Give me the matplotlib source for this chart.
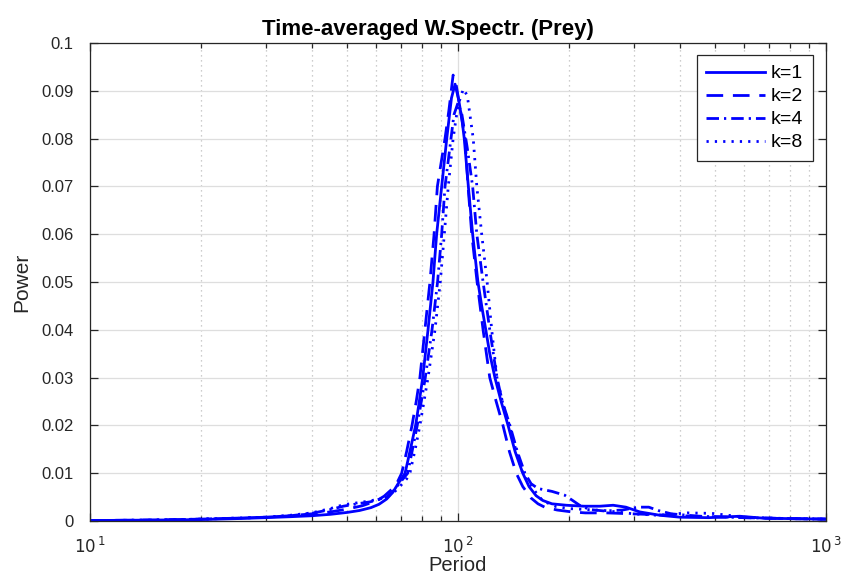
import matplotlib
matplotlib.use("Agg")
import matplotlib.pyplot as plt
from matplotlib.ticker import FixedLocator, NullFormatter, FixedFormatter

plt.rcParams['font.family'] = ['Liberation Sans', 'DejaVu Sans']

# ---- data ----
p1 = [10, 15, 20, 25, 30, 35, 40, 45, 50, 54,
      58, 61, 64, 66.5, 69, 71.8, 74, 76.7, 78.5, 80.2,
      82.9, 85.5, 87.5, 90.3, 93.2, 96, 98.2, 100.5, 102.5, 104,
      106.7, 109.6, 113.3, 116, 119, 122, 126, 131, 136.8, 143,
      150, 156, 163, 170, 180, 197, 220, 243, 264, 286,
      312, 354, 401, 480, 583, 674, 800, 1000]
v1 = [0.0001, 0.0002, 0.0003, 0.0005, 0.0007, 0.0009, 0.0011, 0.0014, 0.0018, 0.0022,
      0.0028, 0.0035, 0.0046, 0.0060, 0.0080, 0.010, 0.0145, 0.020, 0.025, 0.030,
      0.040, 0.050, 0.060, 0.070, 0.080, 0.0885, 0.0914, 0.088, 0.084, 0.080,
      0.070, 0.060, 0.050, 0.045, 0.040, 0.035, 0.030, 0.025, 0.020, 0.0145,
      0.0100, 0.0072, 0.0053, 0.0043, 0.0036, 0.0033, 0.0031, 0.0031, 0.0033, 0.0029,
      0.0019, 0.0012, 0.0008, 0.0007, 0.0010, 0.0006, 0.0005, 0.0004]

p2 = [10, 15, 20, 25, 30, 35, 40, 45, 50, 55,
      60, 63, 66, 68.5, 70.3, 72.5, 75, 77, 78.8, 81.3,
      83.9, 86.1, 87.9, 90, 92.2, 94.5, 97, 99, 101, 103,
      104.5, 106.5, 109, 112.7, 117, 122, 127, 132.5, 138, 144,
      150, 158, 165, 172, 186, 204, 222, 254, 300, 350,
      400, 500, 600, 800, 1000]
v2 = [0.0001, 0.0002, 0.0004, 0.0006, 0.0008, 0.0011, 0.0015, 0.0019, 0.0025, 0.0032,
      0.0042, 0.0052, 0.0066, 0.0082, 0.010, 0.0145, 0.020, 0.025, 0.030, 0.040,
      0.050, 0.060, 0.070, 0.075, 0.080, 0.086, 0.0933, 0.091, 0.087, 0.083,
      0.080, 0.070, 0.060, 0.050, 0.040, 0.030, 0.025, 0.020, 0.0145, 0.010,
      0.0072, 0.0048, 0.0036, 0.0029, 0.0023, 0.0019, 0.0017, 0.0017, 0.0015, 0.0013,
      0.0011, 0.0009, 0.0007, 0.0005, 0.0004]

p4 = [10, 15, 20, 25, 30, 35, 40, 45, 48.8, 53.2,
      57.6, 61, 64.1, 66.6, 69.5, 73, 75, 77.5, 81.5, 85,
      88, 90.3, 92.2, 95, 97.5, 100, 102.5, 106, 109.6, 112.5,
      117, 122, 127.6, 132, 138.4, 145, 152, 158, 165, 180,
      195, 204, 214, 228, 250, 280, 308, 330, 350, 380,
      450, 600, 800, 1000]
v4 = [0.0001, 0.0002, 0.0004, 0.0006, 0.0008, 0.0011, 0.0016, 0.0024, 0.0031, 0.0036,
      0.0040, 0.0045, 0.0050, 0.0062, 0.0080, 0.010, 0.0145, 0.020, 0.030, 0.040,
      0.050, 0.060, 0.070, 0.078, 0.085, 0.0875, 0.085, 0.078, 0.070, 0.060,
      0.050, 0.040, 0.030, 0.025, 0.020, 0.0145, 0.010, 0.0078, 0.0068, 0.0062,
      0.0054, 0.0044, 0.0033, 0.0024, 0.0021, 0.0023, 0.0029, 0.0029, 0.0022, 0.0015,
      0.0010, 0.0007, 0.0005, 0.0004]

p8 = [10, 15, 20, 25, 30, 35, 40, 45, 48.8, 53.2,
      57.6, 61, 64.1, 67, 70, 72.5, 74.1, 76.5, 78.8, 82.9,
      86.6, 89.5, 91.8, 94.1, 97, 100, 103.4, 106, 110, 112.5,
      116, 120, 123.5, 127.6, 132, 138, 144, 150, 156, 162,
      170, 185, 200, 250, 300, 350, 420, 490, 600, 800,
      1000]
v8 = [0.0001, 0.0002, 0.0004, 0.0006, 0.0008, 0.0012, 0.0017, 0.0026, 0.0034, 0.0038,
      0.0042, 0.0046, 0.0050, 0.0060, 0.0075, 0.0088, 0.0102, 0.015, 0.020, 0.030,
      0.040, 0.050, 0.060, 0.070, 0.080, 0.087, 0.0904, 0.089, 0.080, 0.070,
      0.060, 0.050, 0.040, 0.030, 0.025, 0.020, 0.0145, 0.010, 0.0078, 0.0062,
      0.0042, 0.0030, 0.0026, 0.0022, 0.0015, 0.0012, 0.0017, 0.0016, 0.0008, 0.0005,
      0.0004]

labels = ['k=1', 'k=2', 'k=4', 'k=8']
yticks = [0, 0.01, 0.02, 0.03, 0.04, 0.05, 0.06, 0.07, 0.08, 0.09, 0.1]
ytick_labels = ['0', '0.01', '0.02', '0.03', '0.04', '0.05', '0.06', '0.07', '0.08', '0.09', '0.1']
xticks = [10, 100, 1000]
xtick_labels = [r'$10^{\,1}$', r'$10^{\,2}$', r'$10^{\,3}$']
minor_x = [m * d for d in (10, 100) for m in range(2, 10)]

fig = plt.figure(figsize=(8.45, 5.74), dpi=100)
ax = fig.add_axes([0.1065, 0.0923, 0.871, 0.8327])

blue = (0, 0, 1)
lw = 2.0
ax.plot(p1, v1, color=blue, lw=lw, linestyle='-', label=labels[0])
ax.plot(p2, v2, color=blue, lw=lw, linestyle=(0, (6, 3.5)), label=labels[1])
ax.plot(p4, v4, color=blue, lw=lw, linestyle=(0, (4.5, 1.8, 0.8, 1.8)), label=labels[2])
ax.plot(p8, v8, color=blue, lw=lw, linestyle=(0, (0.8, 2.2)), label=labels[3])

ax.set_xscale('log')
ax.set_xlim(10, 1000)
ax.set_ylim(0, 0.1)

ax.xaxis.set_major_locator(FixedLocator(xticks))
ax.xaxis.set_major_formatter(FixedFormatter(xtick_labels))
ax.xaxis.set_minor_locator(FixedLocator(minor_x))
ax.xaxis.set_minor_formatter(NullFormatter())
ax.yaxis.set_major_locator(FixedLocator(yticks))
ax.yaxis.set_major_formatter(FixedFormatter(ytick_labels))

ax.grid(True, which='major', axis='both', color='#dedede', lw=0.9, linestyle='-')
ax.grid(True, which='minor', axis='x', color='#bdbdbd', lw=0.9, linestyle=(0, (1, 3)))
ax.set_axisbelow(True)

ax.tick_params(which='both', direction='in', top=True, right=True, colors='#262626',
               labelsize=12, width=0.9)
ax.tick_params(which='major', length=6)
ax.tick_params(which='minor', length=3.5)
ax.tick_params(axis='x', pad=10.5)
ax.tick_params(axis='y', pad=12)
for s in ax.spines.values():
    s.set_color('#262626')
    s.set_linewidth(0.9)

ax.set_title('Time-averaged W.Spectr. (Prey)', fontsize=16, fontweight='bold', pad=6,
             x=0.4586)
ax.set_xlabel('Period', fontsize=14.5, color='#262626', labelpad=0)
ax.set_ylabel('Power', fontsize=15, color='#262626', labelpad=7)

leg = ax.legend(loc='upper right', bbox_to_anchor=(0.982, 0.975), borderaxespad=0,
                fontsize=14, handlelength=3.0, handletextpad=0.3, borderpad=0.5,
                labelspacing=0.28, fancybox=False, framealpha=1, edgecolor='#262626')
leg.get_frame().set_linewidth(0.9)

fig.savefig('out.png', dpi=100)
